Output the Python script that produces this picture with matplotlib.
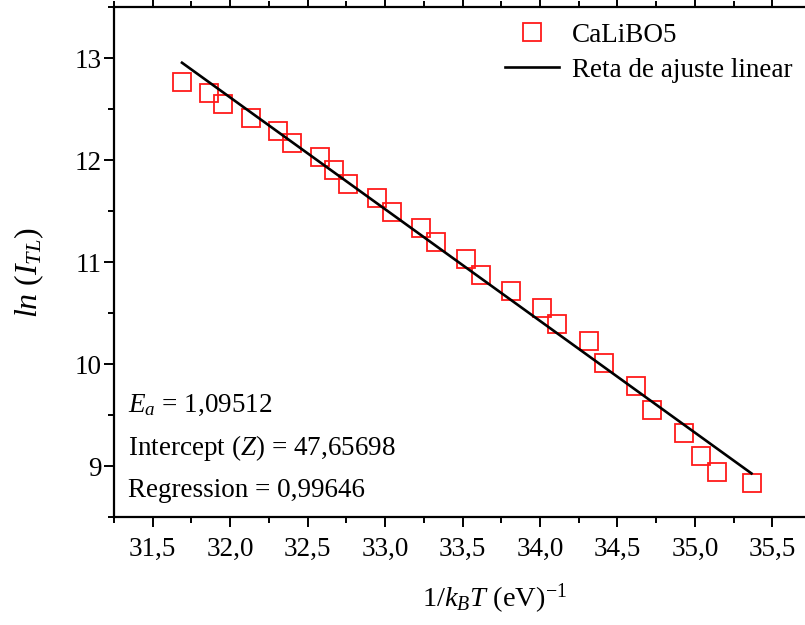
import matplotlib
matplotlib.use("Agg")
import matplotlib.pyplot as plt
import numpy as np
from matplotlib.ticker import MultipleLocator, FuncFormatter

plt.rcParams['font.family'] = ['Liberation Serif', 'DejaVu Serif']
plt.rcParams['mathtext.fontset'] = 'custom'
plt.rcParams['mathtext.rm'] = 'Liberation Serif'
plt.rcParams['mathtext.it'] = 'Liberation Serif:italic'
plt.rcParams['mathtext.bf'] = 'Liberation Serif:bold'

# 1/kT (eV^-1) and ln(I_TL) for CaLiBO5
inv_kT = [31.689, 31.863, 31.953, 32.134, 32.308, 32.398, 32.579, 32.669,
          32.760, 32.947, 33.044, 33.231, 33.327, 33.521, 33.618, 33.811,
          34.011, 34.108, 34.315, 34.411, 34.618, 34.721, 34.927, 35.037,
          35.140, 35.366]
ln_I = [12.765, 12.657, 12.549, 12.412, 12.284, 12.167, 12.029, 11.902,
        11.765, 11.627, 11.490, 11.333, 11.196, 11.029, 10.873, 10.716,
        10.549, 10.392, 10.225, 10.010, 9.784, 9.549, 9.324, 9.098,
        8.941, 8.833]

# linear fit parameters
Ea = 1.09512
intercept = 47.65698
regression = 0.99646

fig = plt.figure(figsize=(8.05, 6.25), dpi=100)
ax = fig.add_axes([114/805, 108/625, 697/805, 510/625])

ax.plot(inv_kT, ln_I, linestyle='none', marker='s', markersize=13.2,
        markerfacecolor='none', markeredgecolor='#ff1a1a', markeredgewidth=1.3,
        label='CaLiBO5')
xfit = np.array([min(inv_kT), max(inv_kT)])
ax.plot(xfit, intercept - Ea * xfit, color='black', linewidth=1.9,
        label='Reta de ajuste linear')

ax.set_xlim(31.25, 35.75)
ax.set_ylim(8.5, 13.5)
ax.xaxis.set_major_locator(MultipleLocator(0.5))
ax.xaxis.set_minor_locator(MultipleLocator(0.25))
ax.yaxis.set_major_locator(MultipleLocator(1))
ax.yaxis.set_minor_locator(MultipleLocator(0.5))
ax.xaxis.set_major_formatter(FuncFormatter(lambda v, p: f"{v:.1f}".replace('.', ',')))
ax.yaxis.set_major_formatter(FuncFormatter(lambda v, p: f"{v:.0f}"))

ax.tick_params(which='both', direction='out', width=1.4, top=True, right=True,
               labelsize=19.5, colors='black')
ax.tick_params(which='major', length=7)
ax.tick_params(which='minor', length=4)
ax.tick_params(axis='x', which='major', pad=7)
ax.tick_params(axis='y', which='major', pad=2)
for s in ax.spines.values():
    s.set_linewidth(1.6)

ax.set_xlabel(r"1/$k_B$$T$ (eV)$^{-1}$", fontsize=20.5, va='center')
ax.xaxis.set_label_coords(0.546, -0.16)
ax.set_ylabel(r"$ln\ (I_{TL})$", fontsize=23, va='center')
ax.yaxis.set_label_coords(-0.121, 0.48)

ax.text(0.02, 0.2058, rf"$E_a$ = {Ea:.5f}".replace('.', ','), transform=ax.transAxes,
        fontsize=19.5, va='baseline')
ax.text(0.02, 0.1225, rf"Intercept ($Z$) = {intercept:.5f}".replace('.', ','),
        transform=ax.transAxes, fontsize=19.5, va='baseline')
ax.text(0.02, 0.0392, f"Regression = {regression:.5f}".replace('.', ','),
        transform=ax.transAxes, fontsize=19.5, va='baseline')

ax.legend(loc='upper left', bbox_to_anchor=((505 - 114) / 697, 0.969),
          frameon=False, fontsize=19.5, handlelength=2.0, handletextpad=0.48,
          labelspacing=0.36, borderpad=0, borderaxespad=0)

fig.savefig("out.png", dpi=100)
